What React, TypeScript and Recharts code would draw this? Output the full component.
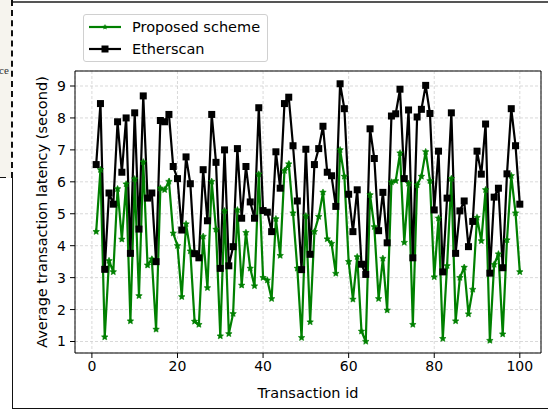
import { CartesianGrid, Label, Line, LineChart, ReferenceLine, XAxis, YAxis } from "recharts";

const transactionIds = Array.from({ length: 100 }, (_, i) => i + 1);

const proposedLatency = [
  4.44, 6.38, 1.14, 3.53, 3.18, 5.78, 4.2, 5.93, 1.64, 6.09,
  2.43, 6.62, 3.39, 3.58, 1.38, 5.8, 5.75, 6.01, 4.39, 4.0,
  2.4, 4.68, 3.83, 1.63, 1.53, 4.29, 2.68, 6.01, 4.51, 1.17,
  5.09, 1.24, 1.87, 5.12, 2.76, 4.41, 3.29, 2.74, 6.24, 3.0,
  2.92, 2.34, 4.84, 3.69, 6.35, 6.56, 5.02, 3.29, 1.12, 4.93,
  1.61, 4.44, 4.91, 5.67, 4.21, 4.07, 3.13, 7.0, 6.17, 3.5,
  2.32, 3.65, 1.32, 1.0, 5.59, 4.59, 2.34, 3.6, 1.98, 5.99,
  6.03, 6.9, 4.1, 5.95, 1.53, 5.9, 6.17, 6.94, 6.03, 3.02,
  4.86, 1.09, 3.37, 6.1, 1.64, 3.0, 3.32, 1.86, 2.63, 4.88,
  4.15, 5.75, 1.03, 3.41, 3.74, 1.23, 4.18, 6.19, 5.02, 3.18,
];

const etherscanLatency = [
  6.54, 8.45, 3.26, 5.65, 5.3, 7.88, 6.3, 8.0, 3.76, 8.16,
  4.52, 8.69, 5.49, 5.65, 3.5, 7.92, 7.88, 8.11, 6.48, 6.1,
  4.49, 6.78, 5.94, 3.75, 3.62, 6.38, 4.78, 8.11, 6.61, 3.29,
  7.0, 3.37, 3.97, 7.04, 4.86, 6.48, 5.37, 4.86, 8.32, 5.1,
  5.05, 4.44, 6.94, 5.8, 8.45, 8.65, 7.13, 5.4, 3.25, 7.02,
  3.73, 6.54, 7.04, 7.74, 6.3, 6.19, 5.23, 9.07, 8.29, 5.61,
  4.44, 5.75, 3.42, 3.1, 7.66, 6.73, 4.47, 5.67, 4.09, 8.06,
  8.13, 8.9, 6.1, 8.25, 3.62, 8.03, 8.27, 9.02, 8.14, 5.12,
  6.96, 3.18, 5.49, 8.16, 3.76, 5.09, 5.4, 3.97, 4.76, 6.96,
  6.24, 7.81, 3.14, 5.52, 5.8, 3.31, 6.25, 8.29, 7.13, 5.3,
];

const xTicks = [0, 20, 40, 60, 80, 100];
const yTicks = [1, 2, 3, 4, 5, 6, 7, 8, 9];

const X_MIN = -3.95;
const X_MAX = 104.95;
const Y_MIN = 0.64;
const Y_MAX = 9.47;

const data = transactionIds.map((id, i) => ({
  id,
  proposed: proposedLatency[i],
  etherscan: etherscanLatency[i],
}));

const font = "'DejaVu Sans', sans-serif";
const GREEN = "#008000";

function starPoints(cx: number, cy: number, outer: number, inner: number) {
  const pts: string[] = [];
  for (let k = 0; k < 10; k++) {
    const r = k % 2 === 0 ? outer : inner;
    const a = -Math.PI / 2 + (k * Math.PI) / 5;
    pts.push(`${cx + r * Math.cos(a)},${cy + r * Math.sin(a)}`);
  }
  return pts.join(" ");
}

function StarDot(props: any) {
  const { cx, cy, index } = props;
  if (cx == null || cy == null) return null;
  return <polygon key={`s${index}`} points={starPoints(cx, cy, 3.4, 1.6)} fill={GREEN} stroke={GREEN} strokeWidth={0.6} />;
}

function SquareDot(props: any) {
  const { cx, cy, index } = props;
  if (cx == null || cy == null) return null;
  return <rect key={`q${index}`} x={cx - 3.5} y={cy - 3.5} width={7} height={7} fill="#000" />;
}

function ChartLegend() {
  const row = { display: "flex", alignItems: "center", height: 22 } as const;
  return (
    <div
      style={{
        position: "absolute",
        left: 83,
        top: 14,
        width: 185,
        height: 48,
        border: "1px solid #d0d0d0",
        borderRadius: 3,
        background: "rgba(255,255,255,0.85)",
        fontFamily: font,
        fontSize: 14.5,
        color: "#000",
        boxSizing: "border-box",
        padding: "1px 0 0 4px",
      }}
    >
      <div style={row}>
        <svg width={36} height={10}>
          <line x1={1} y1={5} x2={33} y2={5} stroke={GREEN} strokeWidth={2.2} />
          <polygon points={starPoints(17, 5, 3, 1.4)} fill={GREEN} />
        </svg>
        <span style={{ marginLeft: 8 }}>Proposed scheme</span>
      </div>
      <div style={row}>
        <svg width={36} height={10}>
          <line x1={1} y1={5} x2={33} y2={5} stroke="#000" strokeWidth={2.2} />
          <rect x={13.5} y={1.5} width={7} height={7} fill="#000" />
        </svg>
        <span style={{ marginLeft: 8 }}>Etherscan</span>
      </div>
    </div>
  );
}

const tickStyle = { fontFamily: font, fontSize: 14, fill: "#000" };

export default function App() {
  return (
    <div style={{ position: "absolute", left: 0, top: 0, width: 548, height: 412, background: "#fff", overflow: "hidden" }}>
      {/* page fragments around the figure */}
      <div style={{ position: "absolute", left: 0, top: 0, width: 12, height: 178, background: "#f6f4ee" }} />
      <div style={{ position: "absolute", left: 11, top: 0, height: 178, borderLeft: "2px dashed #111" }} />
      <div style={{ position: "absolute", left: 0, top: 177, width: 6, borderTop: "1px solid #111" }} />
      <div style={{ position: "absolute", left: -1, top: 64, fontFamily: "serif", fontSize: 11, color: "#333" }}>ce</div>
      <div style={{ position: "absolute", left: 12, top: 178, height: 231, borderLeft: "1.5px solid #111" }} />
      <div style={{ position: "absolute", left: 12, top: 408, width: 536, borderTop: "1.5px solid #111" }} />
      <div style={{ position: "absolute", left: 13, top: 1, width: 535, borderTop: "2px solid #555" }} />

      <div style={{ position: "absolute", left: 0, top: 0 }}>
        <LineChart width={548} height={412} data={data} margin={{ top: 71, right: 7, bottom: 0, left: 0 }}>
          <CartesianGrid stroke="#cfcfcf" strokeDasharray="3 2" strokeWidth={0.8} />
          <XAxis
            dataKey="id"
            type="number"
            domain={[X_MIN, X_MAX]}
            ticks={xTicks}
            allowDataOverflow
            height={59}
            tick={tickStyle}
            tickSize={5}
            tickMargin={3}
            stroke="#000"
            tickLine={{ stroke: "#000" }}
          >
            <Label value="Transaction id" position="insideBottom" offset={14} style={{ fontFamily: font, fontSize: 14.5, fill: "#000" }} />
          </XAxis>
          <YAxis
            type="number"
            domain={[Y_MIN, Y_MAX]}
            ticks={yTicks}
            allowDataOverflow
            width={75}
            tick={tickStyle}
            tickSize={5}
            tickMargin={4}
            stroke="#000"
            tickLine={{ stroke: "#000" }}
          >
            <Label
              value="Average transaction latency (second)"
              angle={-90}
              position="insideLeft"
              offset={42}
              style={{ fontFamily: font, fontSize: 14.5, fill: "#000", textAnchor: "middle" }}
            />
          </YAxis>
          <ReferenceLine y={Y_MAX} stroke="#000" strokeWidth={1} />
          <ReferenceLine x={X_MAX} stroke="#000" strokeWidth={1} />
          <Line
            type="linear"
            dataKey="proposed"
            stroke={GREEN}
            strokeWidth={2.2}
            dot={<StarDot />}
            activeDot={false}
            isAnimationActive={false}
          />
          <Line
            type="linear"
            dataKey="etherscan"
            stroke="#000"
            strokeWidth={2.2}
            dot={<SquareDot />}
            activeDot={false}
            isAnimationActive={false}
          />
        </LineChart>
      </div>
      <ChartLegend />
    </div>
  );
}
